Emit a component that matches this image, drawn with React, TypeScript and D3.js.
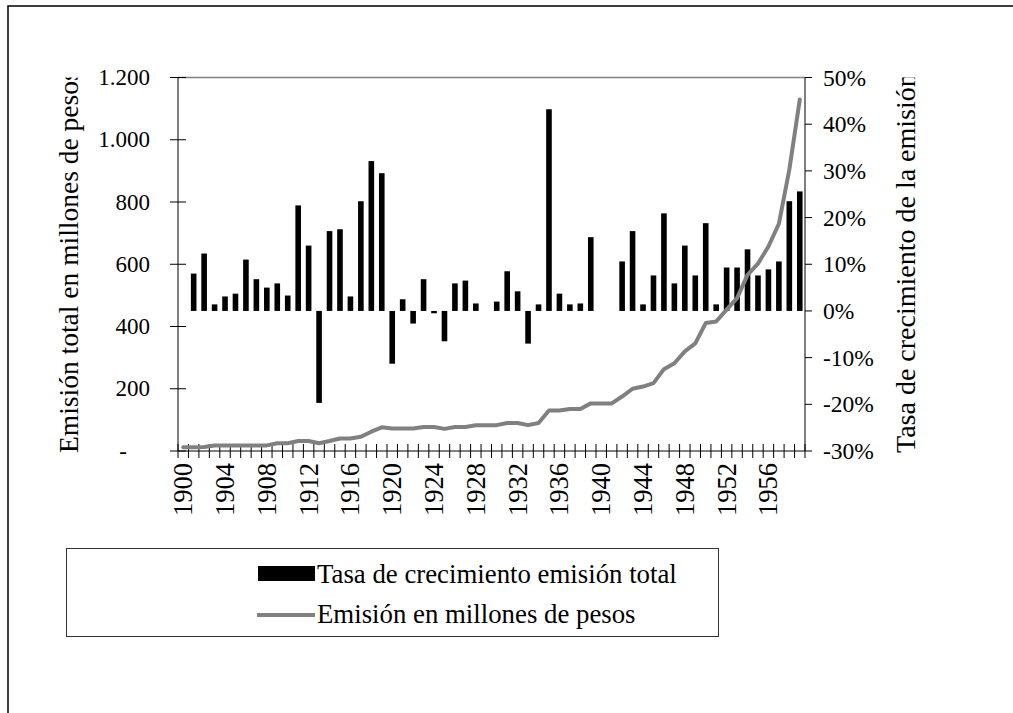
import React from "react";
import * as d3 from "d3";

// Años de la serie
const years: number[] = d3.range(1900, 1960);

// Emisión total en millones de pesos (eje izquierdo)
const emision: number[] = [
  12, 12, 13, 18, 18, 18, 18, 18, 18, 25,
  25, 32, 32, 25, 32, 40, 40, 46, 62, 76,
  72, 72, 72, 77, 77, 71, 77, 77, 83, 83,
  83, 90, 90, 83, 90, 130, 130, 135, 135, 153,
  153, 153, 175, 200, 207, 218, 263, 282, 320, 346,
  411, 416, 454, 491, 566, 602, 657, 730, 904, 1129,
];

// Tasa de crecimiento emisión total, en % (eje derecho)
const crecimiento: (number | null)[] = [
  null, 8.0, 12.3, 1.4, 3.1, 3.7, 11.0, 6.8, 5.0, 5.9,
  3.3, 22.6, 14.0, -19.7, 17.1, 17.5, 3.1, 23.5, 32.1, 29.5,
  -11.3, 2.5, -2.7, 6.8, -0.5, -6.5, 5.9, 6.5, 1.6, 0,
  2.0, 8.5, 4.2, -7.0, 1.4, 43.2, 3.7, 1.4, 1.6, 15.8,
  0, 0, 10.6, 17.1, 1.4, 7.6, 20.9, 5.9, 14.0, 7.6,
  18.8, 1.4, 9.3, 9.3, 13.2, 7.6, 8.9, 10.6, 23.5, 25.6,
];

const leftTicks: number[] = [0, 200, 400, 600, 800, 1000, 1200];
const rightTicks: number[] = [-30, -20, -10, 0, 10, 20, 30, 40, 50];
const yearLabels: number[] = years.filter((y) => (y - 1900) % 4 === 0);

const legendItems: string[] = [
  "Tasa de crecimiento emisión total",
  "Emisión en millones de pesos",
];
const leftTitle = "Emisión total en millones de pesos";
const rightTitle = "Tasa de crecimiento de la emisión";

const font = "Liberation Serif";
const gray = "#808080";

const esLocale = d3.formatLocale({
  decimal: ",",
  thousands: ".",
  grouping: [3],
  currency: ["$", ""],
});
const fmtMiles = esLocale.format(",");

export default function App() {
  const width = 1013;
  const height = 713;
  const plot = { left: 178, right: 805, top: 77.5, bottom: 451 };

  const x = d3
    .scaleBand<number>()
    .domain(years)
    .range([plot.left, plot.right])
    .padding(0);
  const bw = x.bandwidth();
  const cx = (yr: number) => (x(yr) as number) + bw / 2;

  const yLeft = d3.scaleLinear().domain([0, 1200]).range([plot.bottom, plot.top]);
  const yRight = d3.scaleLinear().domain([-30, 50]).range([plot.bottom, plot.top]);

  const line = d3
    .line<number>()
    .x((_, i) => cx(years[i]))
    .y((d) => yLeft(d));

  const barW = 5.6;
  const boundaries = d3.range(years.length + 1).map((i) => plot.left + i * bw);
  const txt = { fontFamily: font };

  return (
    <svg
      width={width}
      height={height}
      style={{ position: "absolute", left: 0, top: 0, background: "#fff", fontFamily: font }}
    >
      <defs>
        <clipPath id="titleClip">
          <rect x={0} y={plot.top} width={width} height={height} />
        </clipPath>
      </defs>

      {/* marco exterior */}
      <rect x={8} y={6} width={width + 20} height={height + 20} fill="none" stroke="#000" strokeWidth={1.5} />

      {/* borde superior del área de trazado */}
      <line x1={plot.left} x2={plot.right} y1={plot.top} y2={plot.top} stroke={gray} strokeWidth={1.5} />

      {/* barras de crecimiento */}
      <g>
        {crecimiento.map((v, i) =>
          v === null || v === 0 ? null : (
            <rect
              key={i}
              x={cx(years[i]) - barW / 2}
              y={Math.min(yRight(v), yRight(0))}
              width={barW}
              height={Math.max(Math.abs(yRight(v) - yRight(0)), 1)}
              fill="#000"
            />
          )
        )}
      </g>

      {/* eje izquierdo */}
      <line x1={plot.left} x2={plot.left} y1={plot.top} y2={plot.bottom} stroke="#000" />
      {leftTicks.map((t) => (
        <g key={t}>
          <line x1={plot.left - 8} x2={plot.left + 8} y1={yLeft(t)} y2={yLeft(t)} stroke="#000" />
          <text
            x={150}
            y={yLeft(t)}
            textAnchor="end"
            dominantBaseline="central"
            fontSize={23}
            style={txt}
          >
            {t === 0 ? "-\u2007\u2007" : fmtMiles(t)}
          </text>
        </g>
      ))}

      {/* eje derecho */}
      <line x1={plot.right} x2={plot.right} y1={plot.top} y2={plot.bottom} stroke="#000" />
      {rightTicks.map((t) => (
        <g key={t}>
          <line x1={plot.right} x2={plot.right + 7} y1={yRight(t)} y2={yRight(t)} stroke="#000" />
          <text x={823} y={yRight(t)} dominantBaseline="central" fontSize={23.5} style={txt}>
            {`${t}%`}
          </text>
        </g>
      ))}

      {/* eje x */}
      <line x1={plot.left} x2={plot.right} y1={plot.bottom} y2={plot.bottom} stroke="#000" />
      {boundaries.map((bx, i) => (
        <line key={i} x1={bx} x2={bx} y1={plot.bottom - 7} y2={plot.bottom + 7} stroke="#000" />
      ))}
      {yearLabels.map((yr) => (
        <text
          key={yr}
          transform={`translate(${cx(yr)},463) rotate(-90)`}
          textAnchor="end"
          dominantBaseline="central"
          fontSize={26.5}
          style={txt}
        >
          {yr}
        </text>
      ))}

      {/* serie de emisión */}
      <path
        d={line(emision) ?? ""}
        fill="none"
        stroke={gray}
        strokeWidth={4}
        strokeLinejoin="round"
        strokeLinecap="round"
      />

      {/* títulos de ejes */}
      <g clipPath="url(#titleClip)">
        <text transform="translate(68,453) rotate(-90)" dominantBaseline="central" fontSize={27.5} style={txt}>
          {leftTitle}
        </text>
        <text transform="translate(905,453) rotate(-90)" dominantBaseline="central" fontSize={28} style={txt}>
          {rightTitle}
        </text>
      </g>

      {/* leyenda */}
      <g>
        <rect x={66.5} y={548.5} width={652} height={88} fill="#fff" stroke="#333" strokeWidth={1} />
        <rect x={258} y={566} width={57} height={15} fill="#000" />
        <text x={317} y={574} dominantBaseline="central" fontSize={26.8} style={txt}>
          {legendItems[0]}
        </text>
        <line x1={257} x2={315} y1={615} y2={615} stroke={gray} strokeWidth={4} />
        <text x={317} y={614} dominantBaseline="central" fontSize={26.8} style={txt}>
          {legendItems[1]}
        </text>
      </g>
    </svg>
  );
}
